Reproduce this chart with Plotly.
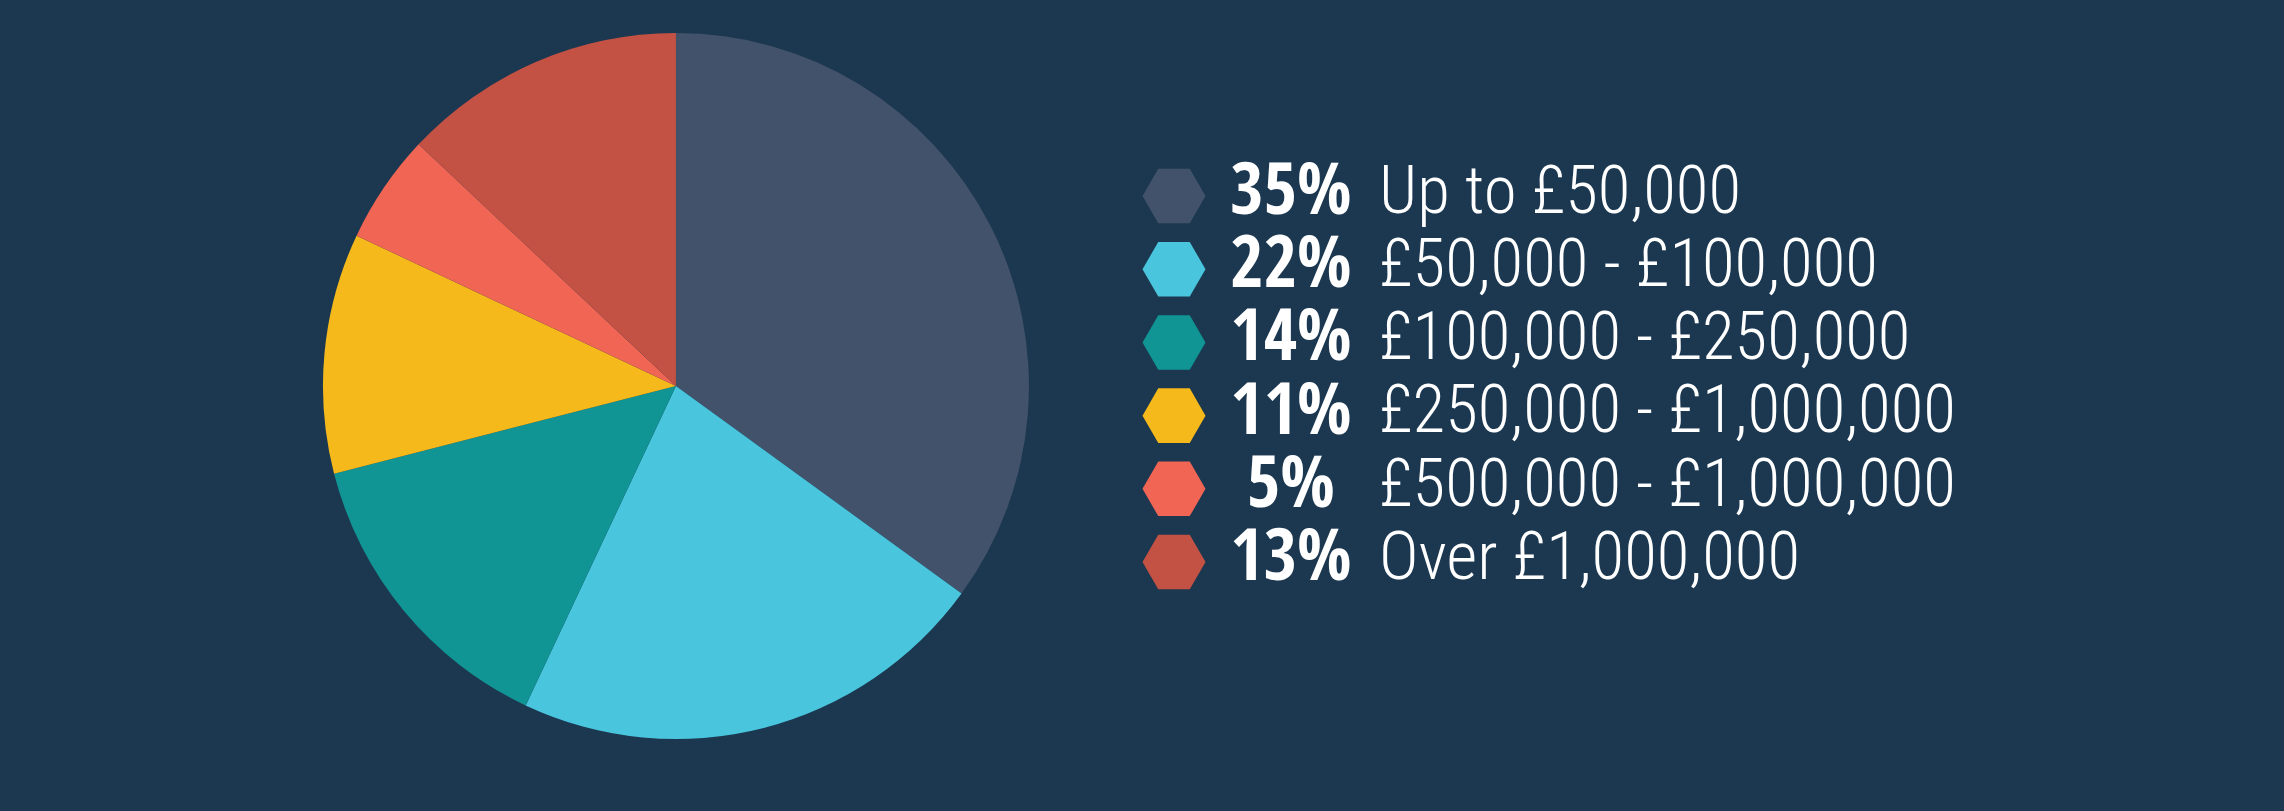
import plotly.graph_objects as go

# data
bands = ["Up to £50,000", "£50,000 - £100,000", "£100,000 - £250,000",
         "£250,000 - £1,000,000", "£500,000 - £1,000,000", "Over £1,000,000"]
shares = [35, 22, 14, 11, 5, 13]
colors = ["#42526A", "#4AC5DE", "#109494", "#F6B91B", "#F06553", "#C45244"]

BG = "#1B3850"
W, H = 2284, 811
LABEL_FONT = "Roboto Condensed, DejaVu Sans Condensed, sans-serif"
PCT_FONT = "Open Sans Condensed, Roboto Condensed, sans-serif"

rows = list(range(len(bands)))

fig = go.Figure()

fig.add_trace(go.Pie(
    labels=bands, values=shares, sort=False, direction="clockwise", rotation=0,
    marker=dict(colors=colors, line=dict(width=0)),
    textinfo="none", hoverinfo="label+percent", showlegend=False,
    domain=dict(x=[0.1414, 0.4505], y=[0.0888, 0.9593]),
))

# legend built from scatter traces on a pixel-scaled overlay axis
fig.add_trace(go.Scatter(
    x=[1174] * len(rows), y=rows, mode="markers",
    marker=dict(symbol="hexagon2", size=63, color=colors, line=dict(width=0)),
    showlegend=False, hoverinfo="skip",
))
fig.add_trace(go.Scatter(
    x=[1291] * len(rows), y=rows, mode="text",
    text=[f"{s}%" for s in shares], textposition="middle center",
    textfont=dict(family=PCT_FONT, size=72, weight=700, color="white"),
    showlegend=False, hoverinfo="skip",
))
fig.add_trace(go.Scatter(
    x=[1379] * len(rows), y=rows, mode="text",
    text=bands, textposition="middle right",
    textfont=dict(family=LABEL_FONT, size=67, weight=300, color="white"),
    showlegend=False, hoverinfo="skip",
))

fig.update_layout(
    width=W, height=H,
    margin=dict(l=0, r=0, t=0, b=0),
    paper_bgcolor=BG, plot_bgcolor=BG,
    xaxis=dict(range=[0, W], visible=False, fixedrange=True),
    yaxis=dict(range=[8.401, -2.678], visible=False, fixedrange=True),
)

# drop the browser's default page margin so the figure fills the window
fig.write_html(
    "out.html",
    config={"displayModeBar": False},
    post_script="document.body.style.margin='0';document.body.style.background='%s';" % BG,
)
